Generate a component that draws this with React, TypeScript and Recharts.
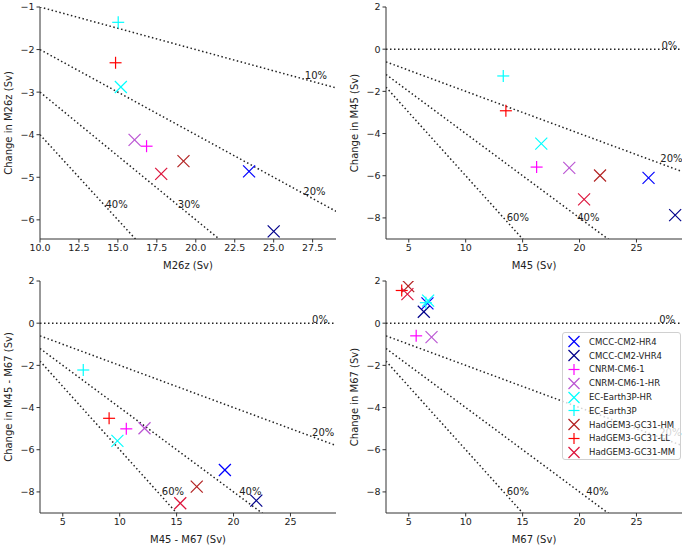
import { ScatterChart, Scatter, XAxis, YAxis, ReferenceLine, ReferenceArea, Label } from 'recharts';

// model names, in legend order
const models = [
  'CMCC-CM2-HR4',
  'CMCC-CM2-VHR4',
  'CNRM-CM6-1',
  'CNRM-CM6-1-HR',
  'EC-Earth3P-HR',
  'EC-Earth3P',
  'HadGEM3-GC31-HM',
  'HadGEM3-GC31-LL',
  'HadGEM3-GC31-MM',
];
const markerKinds = ['x', 'x', '+', 'x', 'x', '+', 'x', '+', 'x'];
const modelColors = ['#0000ff', '#00008b', '#ff00ff', '#ba55d3', '#00ffff', '#00ffff', '#b22222', '#ff0000', '#dc143c'];

// values (Sv)
const m26z = [23.42, 25.0, 16.84, 16.07, 15.19, 15.02, 19.21, 14.85, 17.78];
const m26zChange = [-4.86, -6.27, -4.27, -4.12, -2.88, -1.36, -4.62, -2.31, -4.92];
const m45 = [26.06, 28.4, 16.23, 19.1, 16.64, 13.3, 21.8, 13.53, 20.4];
const m45Change = [-6.1, -7.87, -5.59, -5.63, -4.48, -1.27, -5.99, -2.92, -7.12];
const m45m67 = [19.24, 22.0, 10.58, 12.18, 9.8, 6.8, 16.77, 9.07, 15.32];
const m45m67Change = [-6.96, -8.41, -5.01, -4.98, -5.58, -2.22, -7.75, -4.51, -8.54];
const m67 = [6.64, 6.32, 5.65, 7.0, 6.7, 6.5, 4.95, 4.38, 4.88];
const m67Change = [0.94, 0.54, -0.6, -0.66, 1.07, 0.97, 1.76, 1.55, 1.38];

// percentage reduction lines and their labels
const pctM26z = [10, 20, 30, 40];
const pctOther = [0, 20, 40, 60];
const pctLabelsM26z = [
  { text: '10%', x: 27.0, y: -2.62 },
  { text: '20%', x: 26.9, y: -5.33 },
  { text: '30%', x: 18.85, y: -5.63 },
  { text: '40%', x: 14.2, y: -5.63 },
];
const pctLabelsM45 = [
  { text: '0%', x: 27.2, y: 0.16 },
  { text: '20%', x: 27.1, y: -5.2 },
  { text: '40%', x: 19.8, y: -8.0 },
  { text: '60%', x: 13.6, y: -8.0 },
];
const pctLabelsM45m67 = [
  { text: '0%', x: 26.9, y: 0.16 },
  { text: '20%', x: 26.9, y: -5.2 },
  { text: '40%', x: 20.5, y: -8.0 },
  { text: '60%', x: 13.7, y: -8.0 },
];
const pctLabelsM67 = [
  { text: '0%', x: 27.0, y: 0.16 },
  { text: '20%', x: 27.0, y: -5.2 },
  { text: '40%', x: 20.6, y: -8.0 },
  { text: '60%', x: 13.6, y: -8.0 },
];

const ticksM26z = [10, 12.5, 15, 17.5, 20, 22.5, 25, 27.5];
const ticksX = [5, 10, 15, 20, 25];
const ticksYM26z = [-6, -5, -4, -3, -2, -1];
const ticksY = [-8, -6, -4, -2, 0, 2];

const FONT = 'DejaVu Sans, sans-serif';
const TEXT = '#222';
const AXIS = '#333';

const minus = (v: number) => (v < 0 ? '\u2212' + Math.abs(v) : String(v));

function Marker({ kind, color, cx, cy, r = 6 }: { kind: string; color: string; cx: number; cy: number; r?: number }) {
  if (kind === '+') {
    return (
      <g stroke={color} strokeWidth={1.2}>
        <line x1={cx - r} y1={cy} x2={cx + r} y2={cy} />
        <line x1={cx} y1={cy - r} x2={cx} y2={cy + r} />
      </g>
    );
  }
  return (
    <g stroke={color} strokeWidth={1.2}>
      <line x1={cx - r} y1={cy - r} x2={cx + r} y2={cy + r} />
      <line x1={cx - r} y1={cy + r} x2={cx + r} y2={cy - r} />
    </g>
  );
}

type PanelProps = {
  left: number;
  top: number;
  xs: number[];
  ys: number[];
  xDomain: [number, number];
  yDomain: [number, number];
  xTicks: number[];
  yTicks: number[];
  xFmt?: (v: number) => string;
  xLabel: string;
  yLabel: string;
  pcts: number[];
  labels: { text: string; x: number; y: number }[];
};

function Panel(p: PanelProps) {
  const points = models.map((name, i) => ({ name, x: p.xs[i], y: p.ys[i] }));
  const [x0, x1] = p.xDomain;
  return (
    <div style={{ position: 'absolute', left: p.left, top: p.top }}>
      <ScatterChart width={342} height={275} margin={{ top: 7, right: 6, left: 0, bottom: 6 }}>
        <XAxis
          type="number"
          dataKey="x"
          domain={p.xDomain}
          ticks={p.xTicks}
          allowDataOverflow
          tickFormatter={p.xFmt}
          height={30}
          tickSize={3.5}
          stroke={AXIS}
          tick={{ fontSize: 9.5, fill: TEXT }}
        >
          <Label
            content={(props: any) => {
              const vb = props.viewBox;
              return (
                <text x={vb.x + vb.width / 2} y={vb.y + 26} textAnchor="middle" dominantBaseline="central" fontSize={10} fill={TEXT}>
                  {p.xLabel}
                </text>
              );
            }}
          />
        </XAxis>
        <YAxis
          type="number"
          dataKey="y"
          domain={p.yDomain}
          ticks={p.yTicks}
          allowDataOverflow
          tickFormatter={minus}
          width={40}
          tickSize={3.5}
          stroke={AXIS}
          tick={{ fontSize: 9.5, fill: TEXT }}
        >
          <Label
            content={(props: any) => {
              const vb = props.viewBox;
              const cx = 8;
              const cy = vb.y + vb.height / 2;
              return (
                <text x={cx} y={cy} transform={`rotate(-90, ${cx}, ${cy})`} textAnchor="middle" dominantBaseline="central" fontSize={10} fill={TEXT}>
                  {p.yLabel}
                </text>
              );
            }}
          />
        </YAxis>
        <ReferenceArea fill="none" stroke={AXIS} strokeWidth={1} ifOverflow="visible" />
        {p.pcts.map((pct) => (
          <ReferenceLine
            key={pct}
            segment={[
              { x: x0, y: (-pct / 100) * x0 },
              { x: x1, y: (-pct / 100) * x1 },
            ]}
            stroke="#222"
            strokeWidth={1.5}
            strokeDasharray="1.5 2.5"
            ifOverflow="hidden"
          />
        ))}
        <Scatter
          data={p.labels}
          isAnimationActive={false}
          shape={(s: any) => (
            <text x={s.cx} y={s.cy} fontSize={10} fill={TEXT} dominantBaseline="central">
              {s.payload.text}
            </text>
          )}
        />
        {models.map((m, i) => (
          <Scatter
            key={m}
            name={m}
            data={[points[i]]}
            isAnimationActive={false}
            shape={(s: any) => <Marker kind={markerKinds[i]} color={modelColors[i]} cx={s.cx} cy={s.cy} />}
          />
        ))}
      </ScatterChart>
    </div>
  );
}

function ModelLegend() {
  return (
    <div
      style={{
        position: 'absolute',
        left: 562,
        top: 332,
        width: 119,
        height: 128,
        background: 'rgba(255,255,255,0.8)',
        border: '1px solid #d0d0d0',
        borderRadius: 3,
        paddingTop: 2,
        boxSizing: 'border-box',
      }}
    >
      {models.map((m, i) => (
        <div key={m} style={{ display: 'flex', alignItems: 'center', height: 13.8 }}>
          <svg width={24} height={13}>
            <Marker kind={markerKinds[i]} color={modelColors[i]} cx={11} cy={6.5} r={5.5} />
          </svg>
          <span style={{ fontSize: 8.5, color: TEXT, marginLeft: 2, whiteSpace: 'nowrap' }}>{m}</span>
        </div>
      ))}
    </div>
  );
}

export default function App() {
  return (
    <div style={{ position: 'absolute', left: 0, top: 0, width: 685, height: 549, background: '#fff', fontFamily: FONT }}>
      <Panel
        left={0}
        top={0}
        xs={m26z}
        ys={m26zChange}
        xDomain={[10, 29]}
        yDomain={[-6.45, -1]}
        xTicks={ticksM26z}
        yTicks={ticksYM26z}
        xFmt={(v: number) => v.toFixed(1)}
        xLabel="M26z (Sv)"
        yLabel="Change in M26z (Sv)"
        pcts={pctM26z}
        labels={pctLabelsM26z}
      />
      <Panel
        left={346}
        top={0}
        xs={m45}
        ys={m45Change}
        xDomain={[3, 29]}
        yDomain={[-9, 2]}
        xTicks={ticksX}
        yTicks={ticksY}
        xLabel="M45 (Sv)"
        yLabel="Change in M45 (Sv)"
        pcts={pctOther}
        labels={pctLabelsM45}
      />
      <Panel
        left={0}
        top={274}
        xs={m45m67}
        ys={m45m67Change}
        xDomain={[3, 29]}
        yDomain={[-9, 2]}
        xTicks={ticksX}
        yTicks={ticksY}
        xLabel="M45 - M67 (Sv)"
        yLabel="Change in M45 - M67 (Sv)"
        pcts={pctOther}
        labels={pctLabelsM45m67}
      />
      <Panel
        left={346}
        top={274}
        xs={m67}
        ys={m67Change}
        xDomain={[3, 29]}
        yDomain={[-9, 2]}
        xTicks={ticksX}
        yTicks={ticksY}
        xLabel="M67 (Sv)"
        yLabel="Change in M67 (Sv)"
        pcts={pctOther}
        labels={pctLabelsM67}
      />
      <ModelLegend />
    </div>
  );
}
